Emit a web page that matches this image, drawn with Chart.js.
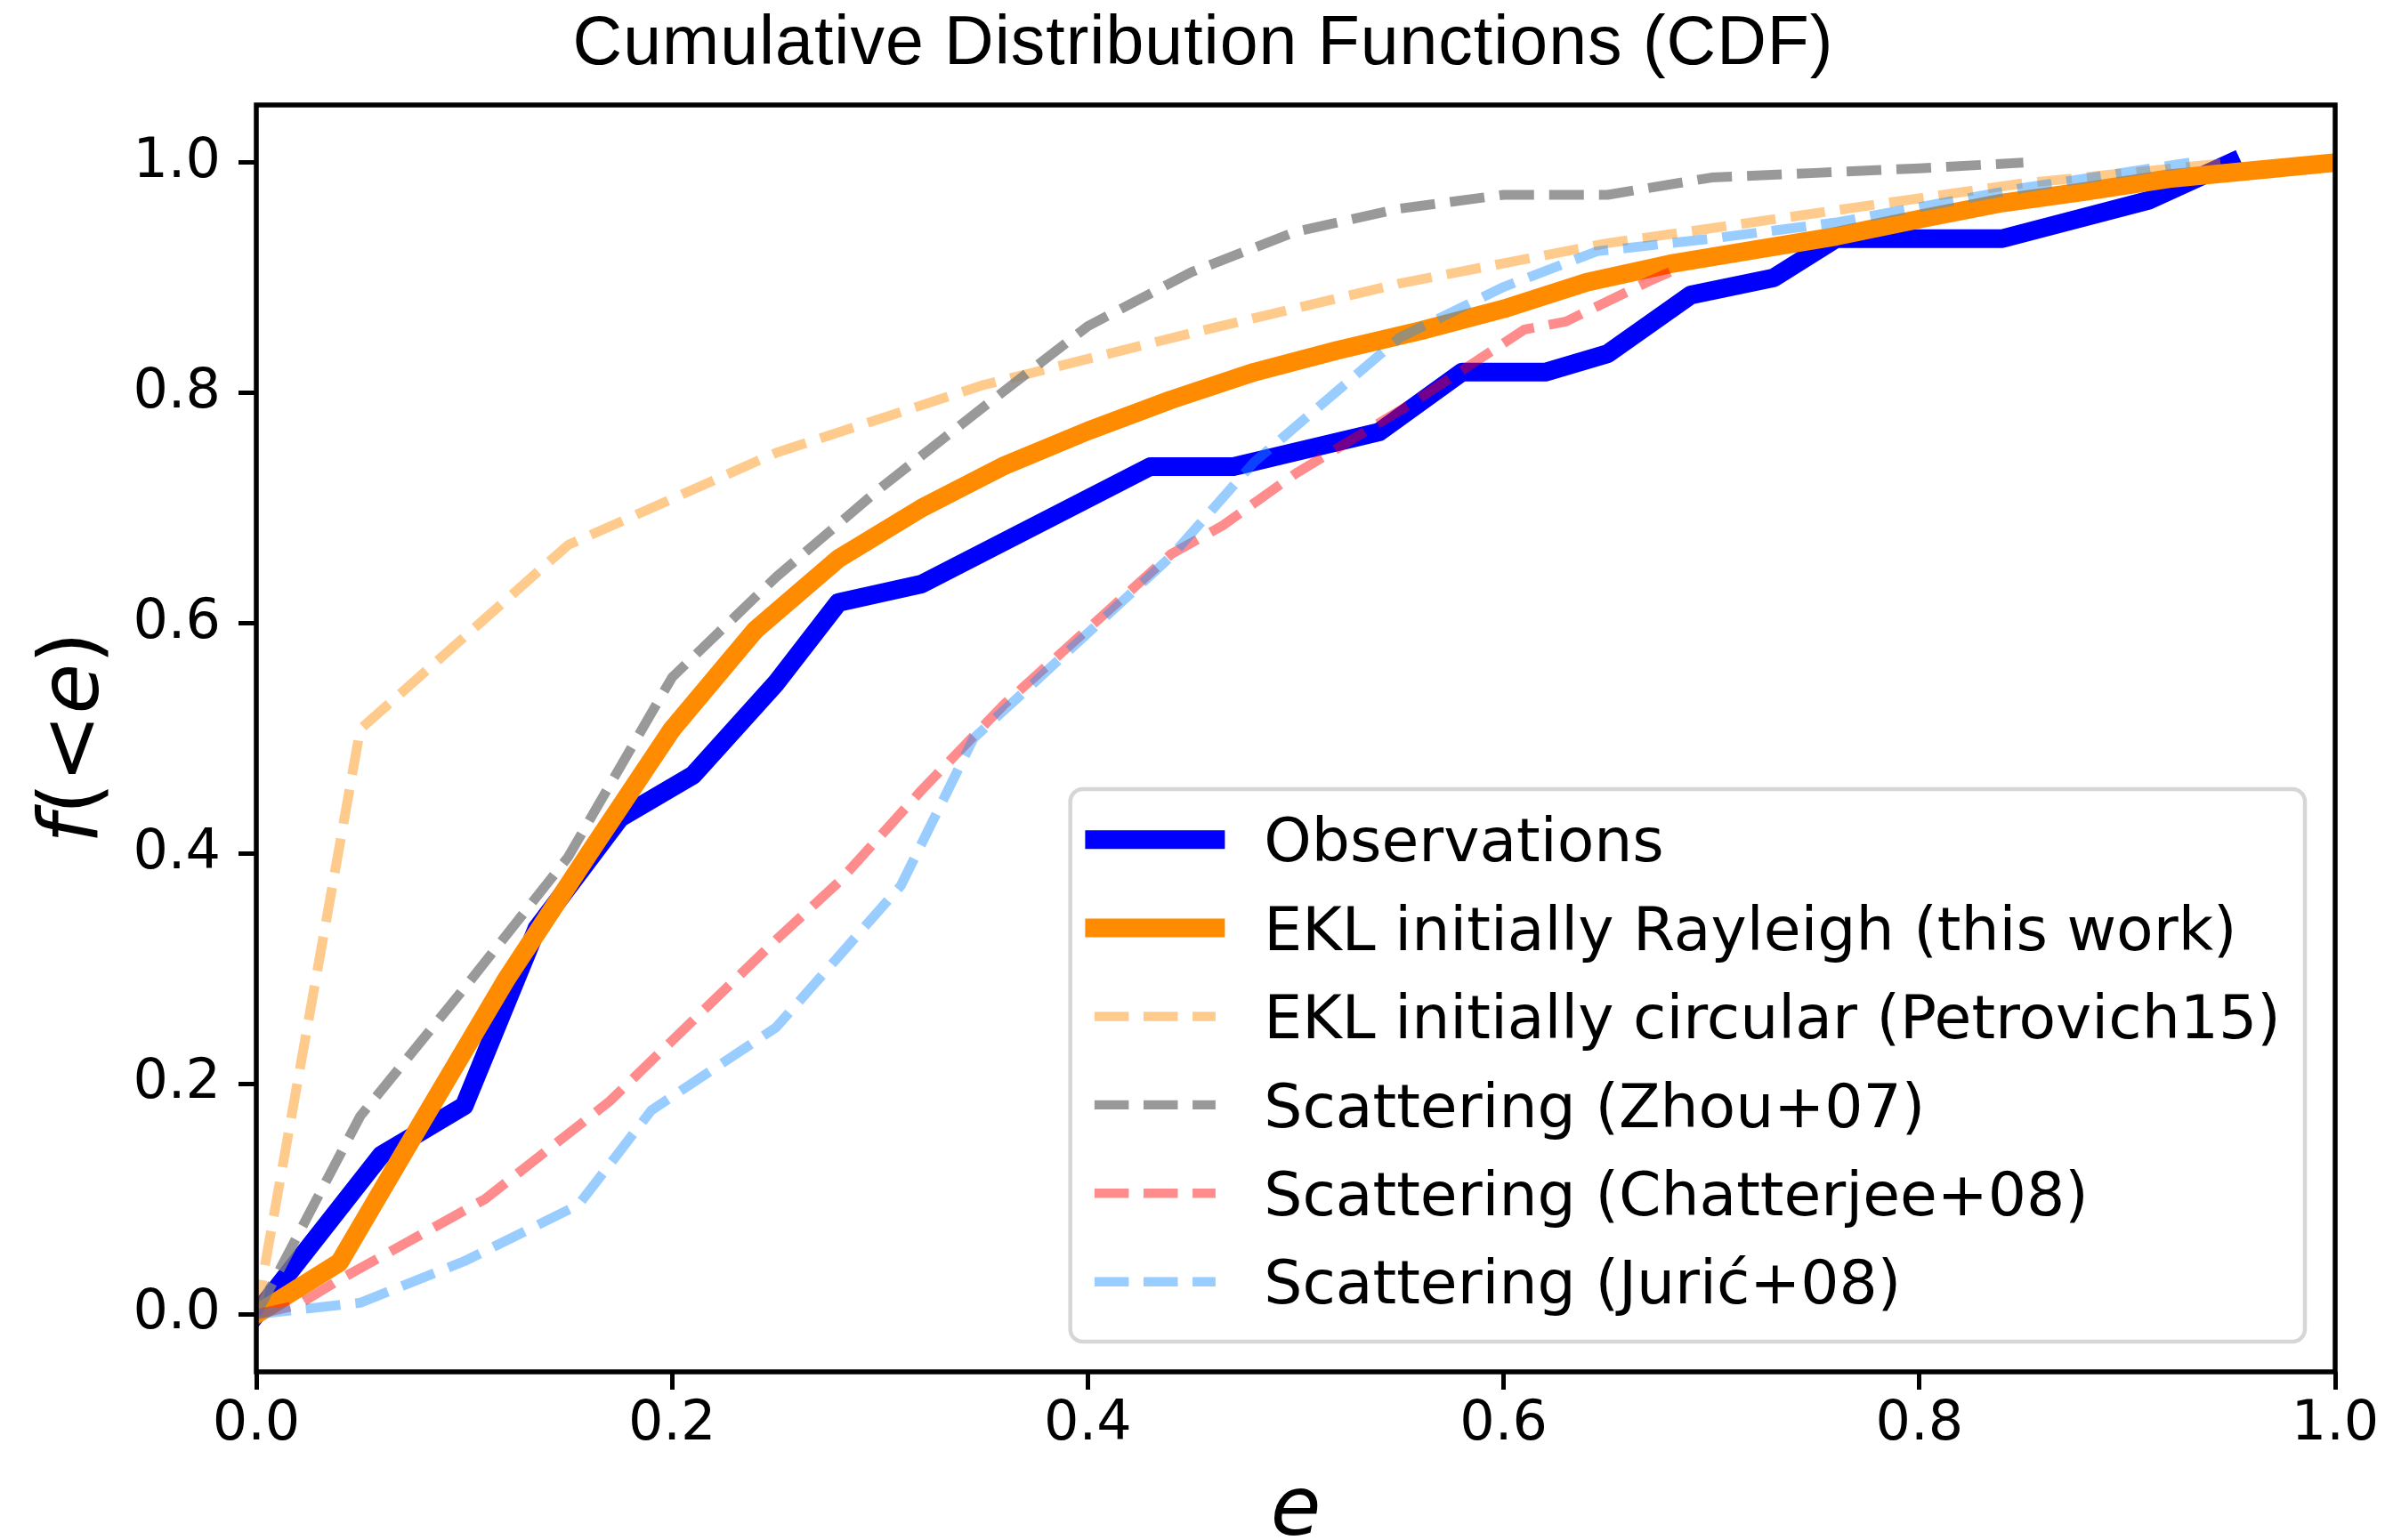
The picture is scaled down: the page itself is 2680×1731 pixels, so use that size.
<!DOCTYPE html>
<html>
<head>
<meta charset="utf-8">
<title>CDF of eccentricities</title>
<script src="https://cdn.jsdelivr.net/npm/chart.js@4.4.1/dist/chart.umd.min.js"></script>
<style>
  html, body { margin: 0; padding: 0; background: #fff; }
</style>
</head>
<body>
<canvas id="cdf" width="2680" height="1731"></canvas>
<script>
// eccentricity (e) and cumulative fraction f(<e) for each curve
const obsE = [0, 0.06, 0.10, 0.135, 0.175, 0.21, 0.25, 0.28, 0.32, 0.43, 0.47, 0.54, 0.58, 0.62, 0.65, 0.69, 0.73, 0.76, 0.84, 0.91, 0.95];
const obsF = [0, 0.138, 0.181, 0.335, 0.431, 0.468, 0.548, 0.618, 0.634, 0.736, 0.736, 0.766, 0.818, 0.818, 0.834, 0.885, 0.900, 0.934, 0.934, 0.967, 1.0];

const rayleighE = [0, 0.04, 0.08, 0.12, 0.16, 0.20, 0.24, 0.28, 0.32, 0.36, 0.40, 0.44, 0.48, 0.52, 0.56, 0.60, 0.64, 0.68, 0.72, 0.76, 0.80, 0.84, 0.88, 0.92, 0.96, 1.0];
const rayleighF = [0, 0.045, 0.168, 0.290, 0.400, 0.508, 0.594, 0.656, 0.700, 0.737, 0.767, 0.794, 0.818, 0.837, 0.854, 0.873, 0.896, 0.912, 0.924, 0.936, 0.951, 0.965, 0.975, 0.986, 0.993, 1.0];

const circularE = [0, 0.05, 0.15, 0.25, 0.35, 0.45, 0.55, 0.65, 0.75, 0.85, 0.95];
const circularF = [0, 0.508, 0.668, 0.748, 0.807, 0.852, 0.895, 0.930, 0.956, 0.982, 1.0];

const zhouE = [0, 0.05, 0.10, 0.15, 0.20, 0.25, 0.30, 0.35, 0.40, 0.45, 0.50, 0.55, 0.60, 0.65, 0.70, 0.75, 0.80, 0.85];
const zhouF = [0, 0.172, 0.283, 0.397, 0.553, 0.640, 0.717, 0.788, 0.858, 0.905, 0.940, 0.960, 0.972, 0.972, 0.987, 0.991, 0.995, 1.0];

const chatterjeeE = [0, 0.02, 0.04, 0.11, 0.17, 0.21, 0.25, 0.28, 0.32, 0.36, 0.44, 0.465, 0.50, 0.555, 0.61, 0.63, 0.67, 0.68];
const chatterjeeF = [0, 0.008, 0.030, 0.100, 0.185, 0.255, 0.325, 0.375, 0.455, 0.530, 0.660, 0.685, 0.730, 0.790, 0.855, 0.862, 0.897, 0.905];

const juricE = [0, 0.05, 0.10, 0.155, 0.19, 0.25, 0.31, 0.345, 0.44, 0.48, 0.55, 0.60, 0.645, 0.70, 0.76, 0.85, 0.93];
const juricF = [0, 0.010, 0.046, 0.095, 0.177, 0.249, 0.372, 0.500, 0.658, 0.740, 0.848, 0.892, 0.923, 0.934, 0.948, 0.978, 1.0];

const seriesLabels = [
  'Observations',
  'EKL initially Rayleigh (this work)',
  'EKL initially circular (Petrovich15)',
  'Scattering (Zhou+07)',
  'Scattering (Chatterjee+08)',
  'Scattering (Jurić+08)'
];

const xTicks = [0, 0.2, 0.4, 0.6, 0.8, 1.0];
const yTicks = [0, 0.2, 0.4, 0.6, 0.8, 1.0];

const TICK_FONT = { family: 'DejaVu Sans', size: 62 };
const LEGEND_SIZE = 68;

function pts(xs, ys) {
  return xs.map((x, i) => ({ x: x, y: ys[i] }));
}

function solidLine(label, xs, ys, color) {
  return {
    label, data: pts(xs, ys), borderColor: color, borderWidth: 21,
    borderCapStyle: 'square', borderJoinStyle: 'round'
  };
}

function dashedLine(label, xs, ys, color) {
  return {
    label, data: pts(xs, ys), borderColor: color, borderWidth: 11,
    borderDash: [39, 17], borderCapStyle: 'butt', borderJoinStyle: 'round'
  };
}

const datasets = [
  solidLine(seriesLabels[0], obsE, obsF, '#0000ff'),
  solidLine(seriesLabels[1], rayleighE, rayleighF, '#ff8c00'),
  dashedLine(seriesLabels[2], circularE, circularF, 'rgba(255,140,0,0.45)'),
  dashedLine(seriesLabels[3], zhouE, zhouF, 'rgba(128,128,128,0.8)'),
  dashedLine(seriesLabels[4], chatterjeeE, chatterjeeF, 'rgba(255,0,0,0.45)'),
  dashedLine(seriesLabels[5], juricE, juricF, 'rgba(30,144,255,0.45)')
];
// later curves sit on top of earlier ones
datasets.forEach((d, i) => { d.order = datasets.length - i; d.clip = 0; });

// background, frame, legend box, title and axis labels
const decorations = {
  id: 'decorations',
  beforeDraw(chart) {
    const ctx = chart.ctx;
    ctx.save();
    ctx.fillStyle = '#fff';
    ctx.fillRect(0, 0, chart.width, chart.height);
    ctx.restore();
  },
  afterDatasetsDraw(chart) {
    const { ctx, chartArea: a } = chart;
    ctx.save();
    ctx.strokeStyle = '#000';
    ctx.lineWidth = 5.5;
    ctx.lineJoin = 'miter';
    ctx.strokeRect(a.left, a.top, a.right - a.left, a.bottom - a.top);
    ctx.restore();
  },
  afterDraw(chart) {
    const { ctx, chartArea: a } = chart;
    const fs = LEGEND_SIZE;

    // legend, anchored lower right inside the axes
    ctx.save();
    ctx.font = fs + 'px "DejaVu Sans"';
    const textW = Math.max(...chart.data.datasets.map(d => ctx.measureText(d.label).width));
    const pad = 0.4 * fs, handleLen = 2.0 * fs, handleGap = 0.8 * fs;
    const right = a.right - 0.5 * fs;
    const bottom = a.bottom - 0.5 * fs;
    const left = right - (2 * pad + handleLen + handleGap + textW);
    const top = bottom - 621;
    ctx.beginPath();
    ctx.roundRect(left, top, right - left, bottom - top, 14);
    ctx.fillStyle = 'rgba(255,255,255,0.8)';
    ctx.fill();
    ctx.strokeStyle = 'rgba(204,204,204,0.8)';
    ctx.lineWidth = 4.5;
    ctx.stroke();

    chart.data.datasets.forEach((d, i) => {
      const cy = top + 56.7 + i * 99.4;
      const x1 = left + pad, x2 = x1 + handleLen;
      ctx.save();
      ctx.strokeStyle = d.borderColor;
      ctx.lineWidth = d.borderDash ? 10.4 : d.borderWidth;
      ctx.lineCap = d.borderCapStyle;
      ctx.setLineDash(d.borderDash ? [38.5, 16.6] : []);
      ctx.beginPath();
      ctx.moveTo(x1, cy);
      ctx.lineTo(x2, cy);
      ctx.stroke();
      ctx.restore();
      ctx.fillStyle = '#000';
      ctx.textBaseline = 'alphabetic';
      ctx.textAlign = 'left';
      ctx.fillText(d.label, x2 + handleGap, cy + 0.364 * fs);
    });
    ctx.restore();

    // title
    ctx.save();
    ctx.font = '77px "Liberation Sans", Arial, Helvetica, sans-serif';
    ctx.letterSpacing = '1px';
    ctx.fillStyle = '#000';
    ctx.textBaseline = 'alphabetic';
    ctx.textAlign = 'left';
    const title = 'Cumulative Distribution Functions (CDF)';
    const tw = ctx.measureText(title).width;
    ctx.fillText(title, 1352 - tw / 2, 72);
    ctx.restore();

    // x axis label
    ctx.save();
    ctx.font = 'italic 92px "DejaVu Sans"';
    ctx.fillStyle = '#000';
    ctx.textAlign = 'center';
    ctx.textBaseline = 'alphabetic';
    ctx.fillText('e', (a.left + a.right) / 2, 1725);
    ctx.restore();

    // y axis label, f(<e) with italic symbols
    ctx.save();
    ctx.fillStyle = '#000';
    ctx.textBaseline = 'alphabetic';
    ctx.textAlign = 'left';
    const parts = [['f', true], ['(<', false], ['e', true], [')', false]];
    const fontFor = it => (it ? 'italic ' : '') + '92px "DejaVu Sans"';
    let total = 0;
    parts.forEach(p => { ctx.font = fontFor(p[1]); total += ctx.measureText(p[0]).width; });
    ctx.translate(110, 829);
    ctx.rotate(-Math.PI / 2);
    let x = -total / 2;
    parts.forEach(p => {
      ctx.font = fontFor(p[1]);
      ctx.fillText(p[0], x, 0);
      x += ctx.measureText(p[0]).width;
    });
    ctx.restore();
  }
};

const tickGrid = {
  display: true, drawOnChartArea: false, drawTicks: true,
  tickLength: 20, tickWidth: 5, tickColor: '#000'
};

const ctx = document.getElementById('cdf').getContext('2d');
const chart = new Chart(ctx, {
  type: 'line',
  data: { datasets: datasets },
  options: {
    responsive: false,
    animation: false,
    devicePixelRatio: 1,
    elements: { point: { radius: 0 }, line: { tension: 0, fill: false } },
    layout: { padding: { top: 118, right: 56, left: 0, bottom: 0 } },
    plugins: {
      legend: { display: false },
      title: { display: false },
      tooltip: { enabled: false }
    },
    scales: {
      x: {
        type: 'linear', min: 0, max: 1,
        afterBuildTicks: s => { s.ticks = xTicks.map(v => ({ value: v })); },
        afterFit: s => { s.height = 189; },
        grid: tickGrid,
        border: { display: false },
        ticks: {
          color: '#000', font: TICK_FONT, padding: 3, maxRotation: 0, autoSkip: false,
          callback: v => v.toFixed(1)
        }
      },
      y: {
        type: 'linear', min: -0.05, max: 1.05,
        afterBuildTicks: s => { s.ticks = yTicks.map(v => ({ value: v })); },
        afterFit: s => { s.width = 288; },
        grid: tickGrid,
        border: { display: false },
        ticks: {
          color: '#000', font: TICK_FONT, padding: 20, autoSkip: false,
          callback: v => v.toFixed(1)
        }
      }
    }
  },
  plugins: [decorations]
});
</script>
</body>
</html>
